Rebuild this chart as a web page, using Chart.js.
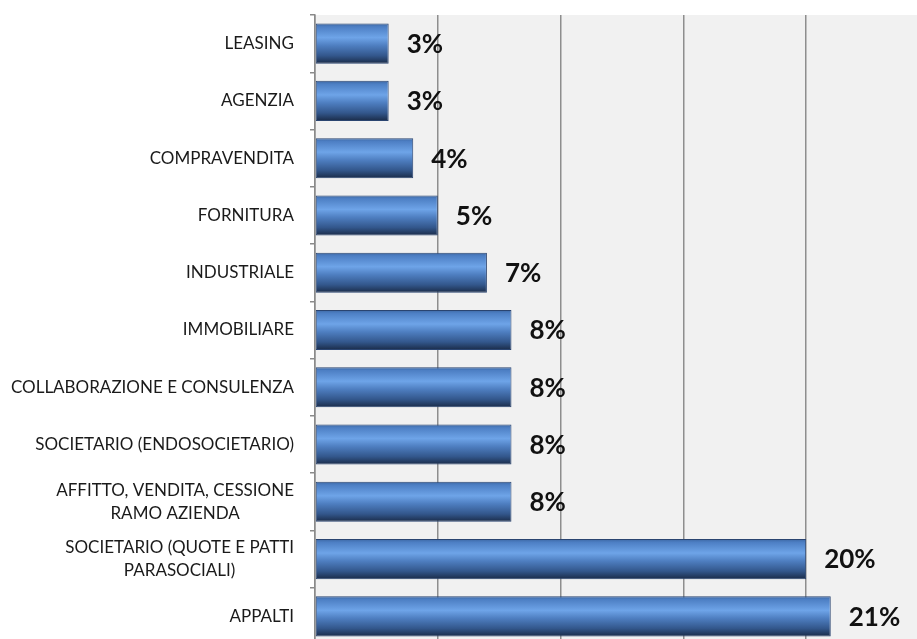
<!DOCTYPE html>
<html>
<head>
<meta charset="utf-8">
<script src="https://cdn.jsdelivr.net/npm/chart.js@4/dist/chart.umd.min.js"></script>
<style>
  html, body { margin: 0; padding: 0; background: #ffffff; overflow: hidden; }
  #wrap { width: 929px; height: 645px; }
</style>
</head>
<body>
<div id="wrap"><canvas id="chartsettori" width="929" height="645"></canvas></div>
<script>
var categorie = [
	["LEASING"],
	["AGENZIA "],
	["COMPRAVENDITA"],
	["FORNITURA"],
	["INDUSTRIALE"],
	["IMMOBILIARE"],
	["COLLABORAZIONE E CONSULENZA"],
	["SOCIETARIO (ENDOSOCIETARIO)"],
	["AFFITTO, VENDITA, CESSIONE", "RAMO AZIENDA"],
	["SOCIETARIO (QUOTE E PATTI", "PARASOCIALI)"],
	["APPALTI"]
];
var percentuali = [3, 3, 4, 5, 7, 8, 8, 8, 8, 20, 21];
var etichette = ["3%", "3%", "4%", "5%", "7%", "8%", "8%", "8%", "8%", "20%", "21%"];

function init_chart_settori(){

	if( typeof (Chart) === 'undefined'){ return; }

	// sfondo grigio dell'area del grafico
	var sfondo_plugin = {
		id: 'sfondo',
		beforeDraw: function(chart){
			var a = chart.chartArea;
			var ctx = chart.ctx;
			ctx.save();
			ctx.fillStyle = "#f1f1f1";
			ctx.fillRect(a.left, a.top, a.right - a.left, a.bottom - a.top);
			ctx.restore();
		}
	};

	// etichette delle categorie, righe centrate fra loro
	var categorie_plugin = {
		id: 'categorie',
		afterDraw: function(chart){
			var ctx = chart.ctx;
			var y = chart.scales.y;
			ctx.save();
			ctx.font = "17px Lato";
			ctx.fillStyle = "#1a1a1a";
			ctx.textAlign = "center";
			ctx.textBaseline = "middle";
			categorie.forEach(function(righe, i){
				var w = 0;
				righe.forEach(function(r){ w = Math.max(w, ctx.measureText(r.trim()).width); });
				var cx = 294 - w / 2;
				var cy = y.getPixelForValue(i);
				var lh = 23;
				righe.forEach(function(r, j){
					ctx.fillText(r.trim(), cx, cy + (j - (righe.length - 1) / 2) * lh);
				});
			});
			ctx.restore();
		}
	};

	// valori percentuali a destra delle barre
	var valori_plugin = {
		id: 'valori',
		afterDatasetsDraw: function(chart){
			var ctx = chart.ctx;
			var meta = chart.getDatasetMeta(0);
			ctx.save();
			ctx.font = "bold 26px Lato";
			ctx.fillStyle = "#111111";
			ctx.textAlign = "left";
			ctx.textBaseline = "middle";
			meta.data.forEach(function(bar, i){
				ctx.fillText(etichette[i], bar.x + 18, bar.y + 1);
			});
			ctx.restore();
		}
	};

	var chart_bar_settings = {
		type: 'bar',
		data: {
			labels: categorie,
			datasets: [{
				data: percentuali,
				backgroundColor: function(context){
					var chart = context.chart;
					var y = chart.scales.y;
					if (!y || context.dataIndex === undefined) { return "#4f81bd"; }
					var c = y.getPixelForValue(context.dataIndex);
					if (!isFinite(c)) { return "#4f81bd"; }
					var h = 20;
					var g = chart.ctx.createLinearGradient(0, c - h, 0, c + h);
					g.addColorStop(0, "#3d68a4");
					g.addColorStop(0.08, "#4d7fc4");
					g.addColorStop(0.35, "#6ea4e8");
					g.addColorStop(0.55, "#4e7ec0");
					g.addColorStop(0.8, "#33578c");
					g.addColorStop(1, "#1a2b48");
					return g;
				},
				borderColor: "#2a4470",
				borderWidth: 1,
				borderSkipped: false,
				barPercentage: 0.7,
				categoryPercentage: 1.0
			}]
		},
		options: {
			indexAxis: 'y',
			responsive: false,
			animation: false,
			layout: { padding: { top: 15, left: 0, right: 0, bottom: 0 } },
			plugins: {
				legend: { display: false },
				tooltip: { enabled: false }
			},
			scales: {
				x: {
					min: 0,
					max: 25,
					ticks: { display: false, stepSize: 5 },
					grid: { color: "#8e8e8e", lineWidth: 1.5, drawTicks: false },
					border: { display: false }
				},
				y: {
					offset: true,
					ticks: { display: false },
					grid: { offset: true, drawOnChartArea: false, drawTicks: true, tickLength: 5, color: "#8a8a8a", lineWidth: 1.5 },
					border: { display: true, color: "#8a8a8a", width: 1.5 },
					afterFit: function(scale){ scale.width = 315; }
				}
			}
		},
		plugins: [sfondo_plugin, categorie_plugin, valori_plugin]
	};

	var chart_element = document.getElementById('chartsettori');
	var chart_bar = new Chart(chart_element, chart_bar_settings);
}

init_chart_settori();
</script>
</body>
</html>
